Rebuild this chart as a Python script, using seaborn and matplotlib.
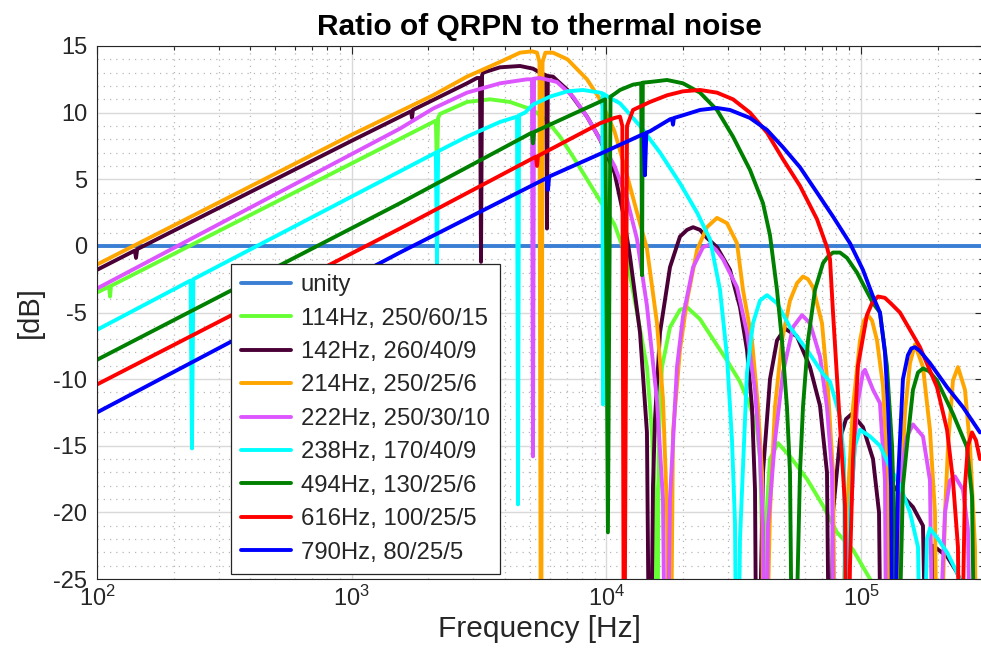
import numpy as np
import pandas as pd
import matplotlib
matplotlib.use("Agg")
import matplotlib.pyplot as plt
from matplotlib.lines import Line2D
from matplotlib.ticker import LogLocator, MultipleLocator, NullFormatter
import seaborn as sns

# ---------------- data ----------------
labels = ["unity", "114Hz, 250/60/15", "142Hz, 260/40/9", "214Hz, 250/25/6",
          "222Hz, 250/30/10", "238Hz, 170/40/9", "494Hz, 130/25/6",
          "616Hz, 100/25/5", "790Hz, 80/25/5"]
colors = ["#3b7fd4", "#66ff33", "#4a0036", "#ffa500", "#dd55ff",
          "#00ffff", "#008000", "#ff0000", "#0000ff"]

unity_f = [100, 300000]
unity_db = [0, 0]

lime_f = [100, 111.5, 112.5, 113.5, 1003, 2140, 2162, 2185, 2222, 2836, 3491, 4183,
          5150, 5843, 6574, 7392, 8391, 9438, 10760, 12050, 13190, 14430, 15100,
          15520, 15800, 16030, 16240, 16530, 17770, 19450, 20730, 23310, 26220,
          29760, 33460, 36630, 39020, 40100, 40830, 41200, 41950, 43890, 47180,
          52590, 61320, 70870, 80430, 92940, 108400, 118600]
lime_db = [-3.5, -3.05, -3.8, -3.0, 6.2, 9.4, 5.5, 9.6, 9.9, 10.8, 11.0, 10.8,
           10.2, 9.4, 8.2, 6.7, 5.0, 3.4, 1.6, -1.0, -5.0, -9.1, -14,
           -19, -40, -16, -12, -9.1, -6.1, -4.8, -4.6, -5.5, -7.0,
           -8.6, -10.2, -12, -13.8, -16, -22, -40, -22, -16, -14.8,
           -15.8, -17.5, -19.5, -21.5, -22.8, -25, -26.5]

purple_f = [100, 140.8, 142.3, 143.8, 1003, 1710, 1725, 1740, 2836, 3104, 3190,
            3219, 3250, 3278, 3822, 4580, 5150, 5487, 5800, 5843, 5890, 6170,
            7036, 8391, 9438, 10760, 11620, 12380, 13550, 14430, 14830, 15240,
            15520, 16240, 17770, 19450, 20730, 21900, 23310, 24810, 27180, 30570,
            33460, 35650, 37300, 38330, 39020, 41200, 43890, 46750, 50260, 56030,
            63010, 68970, 73480, 75500, 77580, 82640, 87240, 92100, 101700,
            111400, 117600, 120800, 126300, 133500, 146000, 159900, 175000,
            183000, 191500, 217500, 237900, 255800]
purple_db = [-1.8, -0.35, -0.9, -0.25, 7.9, 10.1, 9.6, 10.2, 12.2, 12.6, 12.6,
             -1.2, 12.8, 13.0, 13.4, 13.5, 13.3, 13.0, 12.8, 1.3, 12.75, 12.7,
             11.7, 9.7, 8.0, 5.5, 2.5, -0.8, -6.5, -14, -40, -18,
             -13, -6.5, -1.6, 0.7, 1.2, 1.4, 1.2, 0.6, -0.1, -1.8,
             -4.6, -7.8, -12.1, -18.3, -40, -17, -10, -7.1, -6.2, -6.8,
             -9.1, -12, -17, -40, -20, -14.5, -13, -12.6, -13.6,
             -16, -20, -40, -22, -18, -18.8, -19.6, -21,
             -40, -22.5, -23.3, -24.5, -26]

orange_f = [100, 1003, 2086, 2836, 3822, 4580, 5103, 5340, 5460, 5537, 5615, 5760,
            6170, 7036, 8391, 9438, 10760, 12050, 13190, 14430, 15800, 16680,
            17300, 17770, 18260, 19450, 20730, 22700, 24810, 27180, 29760, 32570,
            34380, 37300, 39380, 40830, 41580, 43890, 45910, 48920, 52590, 56030,
            59140, 61880, 64740, 70230, 74150, 77580, 79710, 88030, 92940, 99010,
            102700, 106400, 110400, 115500, 121900, 127500, 129900, 142100,
            148700, 155600, 162800, 175000, 186400, 195000, 200400, 213600,
            219500, 229500, 240100, 255800, 267700, 280100, 285200]
orange_db = [-1.4, 8.35, 11.3, 12.7, 13.8, 14.5, 14.6, 14.5, 13.8, -40, 13.8, 14.5,
             14.5, 14.0, 12.5, 11.0, 8.6, 5.3, 2.5, -0.2, -5.8, -11.5,
             -20, -40, -14, -7.8, -4.1, -0.3, 1.4, 2.1, 1.7, 0.2,
             -3.3, -7.1, -12.1, -17, -40, -20, -12.1, -7.1, -4.1, -2.8,
             -2.3, -2.5, -3.1, -5.8, -10.8, -17, -40, -20, -12.1, -7.1,
             -5.6, -5.2, -5.6, -7.1, -10.5, -17.6, -40, -20,
             -12.5, -8.8, -7.4, -9.1, -13.8, -20, -40, -20,
             -15, -10.1, -9.1, -10.8, -15, -22.6, -40]

magenta_f = [100, 1547, 2086, 2836, 3822, 4879, 5103, 5150, 5200, 5487, 6396, 7392,
             8391, 9438, 10760, 12050, 13190, 14430, 15800, 16680, 17140, 17770,
             18930, 19990, 21900, 23950, 25520, 26950, 28700, 32570, 35650, 38330,
             40100, 41200, 41950, 43110, 45910, 49360, 54040, 58610, 63010, 68970,
             73480, 76880, 78990, 90450, 96360, 101700, 103600, 111400, 118600,
             124100, 126300, 142100, 151400, 159900, 175000, 186400, 193300,
             213600, 223400, 233700, 251200, 262800, 272600]
magenta_db = [-3.2, 8.8, 10.3, 11.5, 12.2, 12.5, 12.5, -15.8, 12.55, 12.6, 12.3, 11.2,
              9.7, 8.0, 6.0, 3.5, 0.5, -4.5, -11.6, -19, -40, -19,
              -9.1, -5.3, -1.6, -0.1, 0.1, -0.3, -1.0, -3.1, -6.5, -10.8,
              -15.8, -21, -40, -21, -14.6, -9.5, -6.1, -5.2, -5.8, -8.3,
              -12.1, -17, -40, -21, -12.1, -9.5, -9.3, -10.8, -11.8,
              -17.6, -40, -17.6, -14.3, -13.4, -14.3, -17.6, -40,
              -20, -17.6, -17.3, -18.3, -21.3, -40]

cyan_f = [100, 233, 236, 239, 2140, 2162, 2185, 2836, 3822, 4458, 4498, 4540, 4791,
          5150, 6006, 7036, 8093, 9438, 9650, 9698, 9750, 10330, 11310, 13550,
          16240, 19450, 22700, 25520, 27930, 29760, 31130, 31990, 32570, 33460,
          35650, 37640, 40100, 42720, 46750, 52590, 61320, 70870, 75500, 82640,
          85700, 87240, 90450, 94630, 99010, 108400, 118600, 129900, 142100,
          155600, 167300, 173400, 181400, 186400, 200400, 217500, 237900, 249000]
cyan_db = [-6.3, -2.6, -15.2, -2.5, 7.0, -1.3, 7.1, 8.2, 9.3, 9.7, -19.4, 9.8, 10.0,
           10.6, 11.2, 11.6, 11.7, 11.5, 11.45, -11.9, 11.4, 11.1, 10.7, 9.0,
           7.0, 4.7, 2.5, 0.5, -3.3, -8.3, -14.6, -20.8, -40, -22,
           -9.5, -5.8, -4.1, -3.7, -4.3, -6.1, -7.8, -9.6, -10.2, -12.8,
           -16, -40, -20, -15, -13.8, -14.3, -15, -16.6, -18,
           -20, -22.6, -40, -22, -21.2, -22, -23, -24.5, -25.5]

green_f = [100, 1547, 5100, 5150, 5200, 9900, 10140, 10380, 10760, 11310, 12720,
           13700, 13800, 13900, 14830, 17300, 19990, 23310, 27180, 31410, 36630,
           41200, 43890, 46750, 48920, 51170, 52590, 54040, 57560, 59140, 61880,
           65930, 70870, 74150, 77580, 82640, 88030, 96360, 111400, 118600,
           126300, 132300, 135900, 137100, 146000, 151400, 159900, 167300,
           175000, 184700, 198600, 229500, 260400, 272600, 282700]
green_db = [-8.55, 3.2, 8.5, 7.7, 8.55, 11.0, -21.5, 11.2, 11.4, 11.7, 12.1,
            12.2, -2.2, 12.25, 12.3, 12.45, 12.2, 11.5, 10.2, 8.2, 5.7,
            3.2, 0.8, -3.3, -7.1, -12.1, -17, -40, -17, -12.1, -7.1,
            -3.3, -1.3, -0.8, -0.5, -0.5, -0.9, -2.0, -4.3, -5.0,
            -9, -15, -22, -40, -18, -15, -10.8, -9.5,
            -9.2, -9.4, -10.1, -12.6, -15.1, -18.8, -40]

red_f = [100, 1547, 5290, 5340, 5390, 9438, 10760, 11310, 11550, 11730, 12050,
         12720, 14830, 17300, 19990, 23310, 27180, 31410, 36630, 42720, 49360,
         57560, 67130, 73480, 75500, 77580, 82640, 84910, 86450, 88030, 90450,
         92940, 97230, 105400, 110400, 116500, 124000, 130600, 142100, 170300,
         198600, 217500, 229500, 240100, 244500, 255800, 262800, 272600, 282700,
         293000]
red_db = [-10.4, 1.3, 6.7, 6.0, 6.75, 9.2, 9.6, 9.7, 9.0, -40, 9.0,
          10.2, 10.8, 11.3, 11.6, 11.7, 11.5, 11.0, 10.0, 8.5, 6.5,
          4.5, 2.0, -0.1, -1.0, -5.0, -13.5, -17, -19.5, -40, -24,
          -16, -9, -5.2, -4.3, -3.8, -3.9, -4.3, -5.0, -7.6,
          -10.6, -13.8, -17.6, -22.6, -40, -18, -15, -14.0, -14.6,
          -16]

blue_f = [100, 1547, 5840, 5899, 5960, 9438, 14000, 14170, 14350, 14830, 17770,
          18100, 18260, 18420, 19990, 23310, 27180, 30570, 36630, 42720, 49360,
          57560, 67130, 77580, 90450, 101700, 111400, 118600, 124100, 127500,
          131100, 133500, 139600, 146000, 152700, 157500, 162800, 170300, 186400,
          217500, 251200, 293000]
blue_db = [-12.5, -0.5, 5.1, 4.2, 5.2, 6.9, 8.4, 5.3, 8.5, 8.6, 9.5,
           9.55, 9.1, 9.6, 9.8, 10.2, 10.35, 10.2, 9.6, 8.7, 7.4,
           5.9, 4.0, 2.2, 0.2, -1.8, -3.8, -5.0, -8, -12,
           -18, -40, -17.6, -10, -8.2, -7.7, -7.6, -7.9, -8.8,
           -10.6, -12.1, -14.0]

series = [(unity_f, unity_db), (lime_f, lime_db), (purple_f, purple_db),
          (orange_f, orange_db), (magenta_f, magenta_db), (cyan_f, cyan_db),
          (green_f, green_db), (red_f, red_db), (blue_f, blue_db)]

frames = []
for lab, (fx, dy) in zip(labels, series):
    frames.append(pd.DataFrame({"series": lab, "freq": fx, "db": dy}))
df = pd.concat(frames, ignore_index=True)

# ---------------- style ----------------
sns.set_style("white")
plt.rcParams["font.family"] = ["Liberation Sans", "DejaVu Sans"]
plt.rcParams["axes.unicode_minus"] = False
plt.rcParams["mathtext.fontset"] = "custom"
plt.rcParams["mathtext.rm"] = "Liberation Sans"
plt.rcParams["mathtext.it"] = "Liberation Sans:italic"
plt.rcParams["mathtext.bf"] = "Liberation Sans:bold"

fig = plt.figure(figsize=(9.81, 6.71), dpi=100)
W, H = 981.0, 671.0
ax = fig.add_axes([97 / W, 92 / H, 885.6 / W, 533 / H])
ax.set_xscale("log")

LW = 2.8
sns.lineplot(data=df, x="freq", y="db", hue="series", hue_order=labels,
             palette=dict(zip(labels, colors)), sort=False, estimator=None,
             linewidth=LW, legend=False, ax=ax)

ax.set_xlim(100, 3e5)
ax.set_ylim(-25, 15)
ax.set_yticks(np.arange(-25, 16, 5))
ax.yaxis.set_minor_locator(MultipleLocator(1))
ax.xaxis.set_major_locator(LogLocator(base=10, numticks=10))
ax.xaxis.set_minor_locator(LogLocator(base=10, subs=np.arange(2, 10), numticks=20))
ax.xaxis.set_minor_formatter(NullFormatter())

ax.set_axisbelow(True)
ax.grid(True, which="major", color="#d9d9d9", linewidth=1.0, linestyle="-")
ax.grid(True, which="minor", color="#b8b8b8", linewidth=0.9, linestyle=(0, (1, 4)))

txtc = "#262626"
for s in ax.spines.values():
    s.set_color(txtc)
    s.set_linewidth(0.8)
ax.tick_params(which="both", direction="in", top=True, right=True,
               colors=txtc, labelcolor=txtc, labelsize=17, width=0.8)
ax.tick_params(which="major", length=6)
ax.tick_params(which="minor", length=3)
ax.tick_params(axis="y", pad=7)
ax.tick_params(axis="x", pad=5)

ax.set_xlabel("Frequency [Hz]", fontsize=21.5, color=txtc, labelpad=3)
ax.set_ylabel("[dB]", fontsize=21, color=txtc, labelpad=7)
ax.set_title("Ratio of QRPN to thermal noise", fontsize=21.5, fontweight="bold",
             color="black", pad=8)

handles = [Line2D([0], [0], color=c, lw=LW) for c in colors]
leg = ax.legend(handles, labels, loc="upper left",
                bbox_to_anchor=(231 / W, 1 - 264 / H), bbox_transform=fig.transFigure,
                fontsize=17.2, frameon=True, fancybox=False, framealpha=1,
                edgecolor=txtc, borderpad=0.42, labelspacing=0.48,
                handlelength=2.1, handletextpad=0.4, borderaxespad=0)
leg.get_frame().set_linewidth(0.9)
for t in leg.get_texts():
    t.set_color(txtc)

fig.savefig("out.png", dpi=100)
